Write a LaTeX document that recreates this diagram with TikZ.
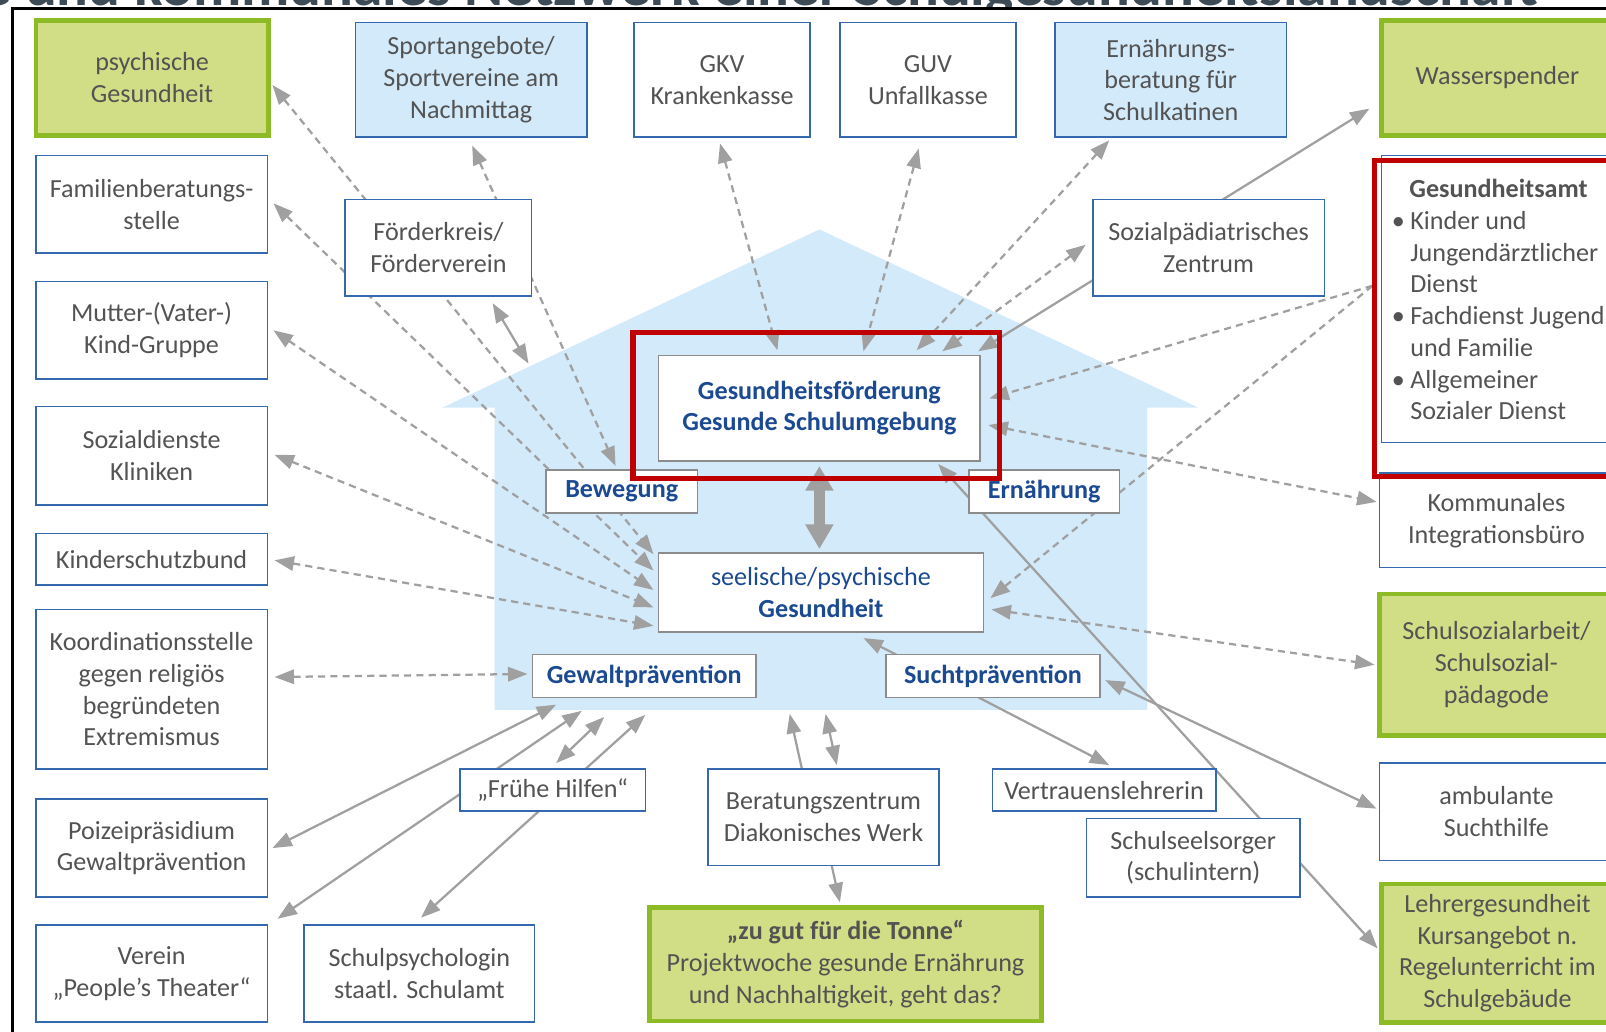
\documentclass[tikz,border=0pt]{standalone}
\usepackage{fontspec}
\setmainfont{Carlito}
\usetikzlibrary{arrows.meta,calc}
\definecolor{txtgray}{HTML}{535353}
\definecolor{boxblue}{HTML}{3469B0}
\definecolor{lightblue}{HTML}{D3EAFA}
\definecolor{housecol}{HTML}{D3EAFA}
\definecolor{greenfill}{HTML}{D1DE86}
\definecolor{greenborder}{HTML}{8CBB26}
\definecolor{textblue}{HTML}{1B4A92}
\definecolor{innergray}{HTML}{8C8C8C}
\definecolor{redcol}{HTML}{C00000}
\definecolor{arrgray}{HTML}{A0A0A0}
\definecolor{titlecol}{HTML}{3C4B55}
\pgfdeclarelayer{bg}
\pgfdeclarelayer{arr}
\pgfdeclarelayer{top}
\pgfsetlayers{bg,arr,main,top}
\begin{document}
\begin{tikzpicture}[x=1pt,y=-1pt,
  >={Triangle[length=19pt,width=14pt]},
  base/.style={font=\fontsize{25.5}{31}\selectfont, text=txtgray, align=center, inner sep=0pt, outer sep=0pt},
  sz/.style 2 args={minimum width=#1pt, minimum height=#2pt},
  wbox/.style={base, draw=boxblue, line width=1.5pt, fill=white},
  lbbox/.style={base, draw=boxblue, line width=1.5pt, fill=lightblue},
  gbox/.style={base, draw=greenborder, line width=4.5pt, fill=greenfill},
  ibox/.style={base, draw=innergray, line width=1.5pt, fill=white, text=textblue, font=\fontsize{25.5}{31}\selectfont\bfseries},
  arrline/.style={draw=arrgray, line width=2.2pt},
  dasharr/.style={arrline, dash pattern=on 7pt off 5pt},
  bigarr/.style={draw=arrgray, line width=10pt, arrows={Triangle[length=24pt,width=26pt]-Triangle[length=24pt,width=26pt]}},
  redbox/.style={draw=redcol, line width=5pt}
]
\useasboundingbox (0,0) rectangle (1568,1007);

% background and house
\begin{pgfonlayer}{bg}
\fill[white] (0,0) rectangle (1568,1007);
\fill[housecol] (432,398) -- (800,224) -- (1170,398) -- (1120,398) -- (1120,693) -- (483,693) -- (483,398) -- cycle;
\end{pgfonlayer}

% cut-off title
\begin{scope}
\clip (0,0) rectangle (1568,8);
\node[anchor=base west, inner sep=0pt, font=\fontsize{58}{58}\selectfont\bfseries, text=titlecol] (title) at (-18,5.5) {e und kommunales Netzwerk einer Schulgesundheitslandschaft};
\end{scope}
\draw[line width=3pt, black] (12,1010) -- (12,8.5) -- (1570,8.5);

% ---------- nodes ----------
\node[gbox, sz={227}{112}] (psych) at (148.5,76) {psychische\\Gesundheit};
\node[wbox, sz={226}{95}] (famil) at (148,199.5) {Familienberatungs-\\stelle};
\node[wbox, sz={226}{95}] (mutter) at (148,322.5) {Mutter-(Vater-)\\Kind-Gruppe};
\node[wbox, sz={226}{96}] (sozial) at (148,445) {Sozialdienste\\Kliniken};
\node[wbox, sz={226}{50}] (kinder) at (148,546) {Kinderschutzbund};
\node[wbox, sz={226}{156}] (koord) at (148,673) {Koordinationsstelle\\gegen religiös\\begründeten\\Extremismus};
\node[wbox, sz={226}{96}] (poizei) at (148,828) {Poizeipräsidium\\Gewaltprävention};
\node[wbox, sz={226}{95}] (verein) at (148,950.5) {Verein\\„People’s Theater“};
\node[wbox, sz={225}{95}] (schulpsych) at (409.5,950.5) {Schulpsychologin\\staatl. Schulamt};

\node[lbbox, sz={226}{112}] (sport) at (460,78) {Sportangebote/\\Sportvereine am\\Nachmittag};
\node[wbox, sz={172}{112}] (gkv) at (705,78) {GKV\\Krankenkasse};
\node[wbox, sz={172}{112}] (guv) at (906,78) {GUV\\Unfallkasse};
\node[lbbox, sz={226}{112}] (ernb) at (1143,78) {Ernährungs-\\beratung für\\Schulkatinen};
\node[gbox, sz={226}{112}] (wasser) at (1462,76) {\raisebox{-3pt}{Wasserspender}};
\node[wbox, sz={182}{94}] (foerder) at (428,242) {Förderkreis/\\Förderverein};
\node[wbox, sz={226}{94}] (sozpaed) at (1180,242) {Sozialpädiatrisches\\Zentrum};

\node[wbox, sz={226}{280}] (gesamt) at (1462,292) {};
\node[base, anchor=north west, align=left] (gesamttext) at (1363,175) {%
\hspace*{13pt}\textbf{Gesundheitsamt}\\
\makebox[14pt][l]{\hspace{-4pt}\textbullet}Kinder und\\
\hspace*{14pt}Jungendärztlicher\\
\hspace*{14pt}Dienst\\
\makebox[14pt][l]{\hspace{-4pt}\textbullet}Fachdienst Jugend\\
\hspace*{14pt}und Familie\\
\makebox[14pt][l]{\hspace{-4pt}\textbullet}Allgemeiner\\
\hspace*{14pt}Sozialer Dienst};
\node[wbox, sz={228}{92}] (kommunal) at (1461,508) {Kommunales\\Integrationsbüro};
\node[gbox, sz={228}{138}] (schulsoz) at (1461,649) {Schulsozialarbeit/\\Schulsozial-\\pädagode};
\node[wbox, sz={228}{95}] (ambul) at (1461,792.5) {ambulante\\Suchthilfe};
\node[gbox, sz={226}{135}] (lehrer) at (1462,930.5) {Lehrergesundheit\\Kursangebot n.\\Regelunterricht im\\Schulgebäude};

\node[ibox, sz={314}{103}] (gf) at (800,398.5) {Gesundheitsförderung\\Gesunde Schulumgebung};
\node[ibox, sz={148}{42}] (beweg) at (607,480) {Bewegung};
\node[ibox, sz={147}{42}] (ernae) at (1019.5,480) {Ernährung};
\node[ibox, sz={317}{77}] (seel) at (801.5,578.5) {{\mdseries seelische/psychische}\\Gesundheit};
\node[ibox, sz={218}{42}] (gewalt) at (629,660) {Gewaltprävention};
\node[ibox, sz={209}{42}] (sucht) at (969.5,660) {Suchtprävention};

\node[wbox, sz={181}{41}] (fruehe) at (539.5,771.5) {„Frühe Hilfen“};
\node[wbox, sz={226}{94}] (berat) at (804,798) {Beratungszentrum\\Diakonisches Werk};
\node[wbox, sz={218}{41}] (vertr) at (1078,771.5) {Vertrauenslehrerin};
\node[wbox, sz={208}{77}] (seelsorg) at (1165,837.5) {Schulseelsorger\\(schulintern)};
\node[gbox, sz={383}{111}] (tonne) at (825.5,941.5) {\textbf{„zu gut für die Tonne“}\\Projektwoche gesunde Ernährung\\und Nachhaltigkeit, geht das?};

\coordinate (roofL) at (516,355);
\coordinate (houseA) at (771,697);
\coordinate (houseB) at (806,697);

% ---------- connectors ----------
\begin{pgfonlayer}{arr}
% dashed fan on the left
\draw[dasharr, <->] ($(psych.east)+(4,7)$) -- ($(seel.north west)+(-5,1)$);
\draw[dasharr, <->] ($(famil.east)+(6,-1)$) -- ($(seel.north west)+(-5,17)$);
\draw[dasharr, <->] ($(mutter.east)+(6,0)$) -- ($(seel.north west)+(-5,36)$);
\draw[dasharr, <->] ($(sozial.east)+(7,-1)$) -- ($(seel.north west)+(-5,53)$);
\draw[dasharr, <->] ($(kinder.east)+(7,1)$) -- ($(seel.north west)+(-5,71)$);
\draw[dasharr, <->] ($(koord.east)+(7,-12)$) -- ($(gewalt.west)+(-5,-2)$);
\draw[dasharr, <->] ($(sport.south)+(1,8)$) -- ($(beweg.north)+(-6,-4)$);
% dashed at the top
\draw[dasharr, <->] ($(gkv.south)+(-2,6)$) -- ($(gf.north)+(-41,-5)$);
\draw[dasharr, <->] ($(guv.south)+(-9,11)$) -- ($(gf.north)+(43,-4)$);
\draw[dasharr, <->] ($(ernb.south)+(-60,3)$) -- ($(gf.north)+(95,-5)$);
\draw[dasharr, <->] ($(sozpaed.west)+(-7,-3)$) -- ($(gf.north)+(120,-4)$);
% dashed on the right
\draw[dasharr, ->] ($(gesamt.west)+(-9,-13)$) -- ($(gf.east)+(9,-9.5)$);
\draw[dasharr, ->] ($(gesamt.west)+(-9,-13)$) -- ($(seel.east)+(7,5.5)$);
\draw[dasharr, <->] ($(gf.east)+(8,16.5)$) -- ($(kommunal.west)+(-3,-18)$);
\draw[dasharr, <->] ($(seel.east)+(8,16.5)$) -- ($(schulsoz.west)+(-5,0)$);
% solid
\draw[arrline, <->] ($(gf.north east)+(-2,-4)$) -- ($(wasser.west)+(-12,30)$);
\draw[arrline, <->] ($(foerder.south)+(53,7)$) -- (roofL);
\draw[arrline, <->] ($(gewalt.south west)+(23,7)$) -- ($(poizei.east)+(5,0)$);
\draw[arrline, <->] ($(gewalt.south west)+(48,13)$) -- ($(verein.north east)+(10,-6)$);
\draw[arrline, <->] ($(gewalt.south west)+(70,19)$) -- ($(fruehe.north)+(3.5,-6)$);
\draw[arrline, <->] ($(gewalt.south west)+(110,17)$) -- ($(schulpsych.north)+(1.5,-7)$);
\draw[arrline, ->] ($(berat.north)+(-21,0)$) -- (houseA);
\draw[arrline, <->] ($(berat.north)+(13,-4)$) -- (houseB);
\draw[arrline, ->] ($(berat.south)+(8,0)$) -- ($(tonne.north)+(-5.5,-5)$);
\draw[arrline, ->] ($(sucht.south)+(-14,0)$) -- ($(vertr.north)+(5,-4)$);
\draw[arrline, ->] ($(sucht.north west)+(10,0)$) -- ($(seel.south)+(41.5,6)$);
\draw[arrline, <->] ($(sucht.east)+(5,4)$) -- ($(ambul.west)+(-3,-3)$);
\draw[arrline, <->] ($(gf.south east)+(-41,3)$) -- ($(lehrer.west)+(-4,-4.5)$);
\end{pgfonlayer}
\draw[bigarr] ($(gf.south)+(0,5)$) -- ($(seel.north)+(-1.5,-4)$);

% red highlight frames
\begin{pgfonlayer}{top}
\draw[redbox] (618,325) rectangle (976,467);
\draw[redbox] (1342,157) rectangle (1600,465);
\end{pgfonlayer}
\end{tikzpicture}
\end{document}
